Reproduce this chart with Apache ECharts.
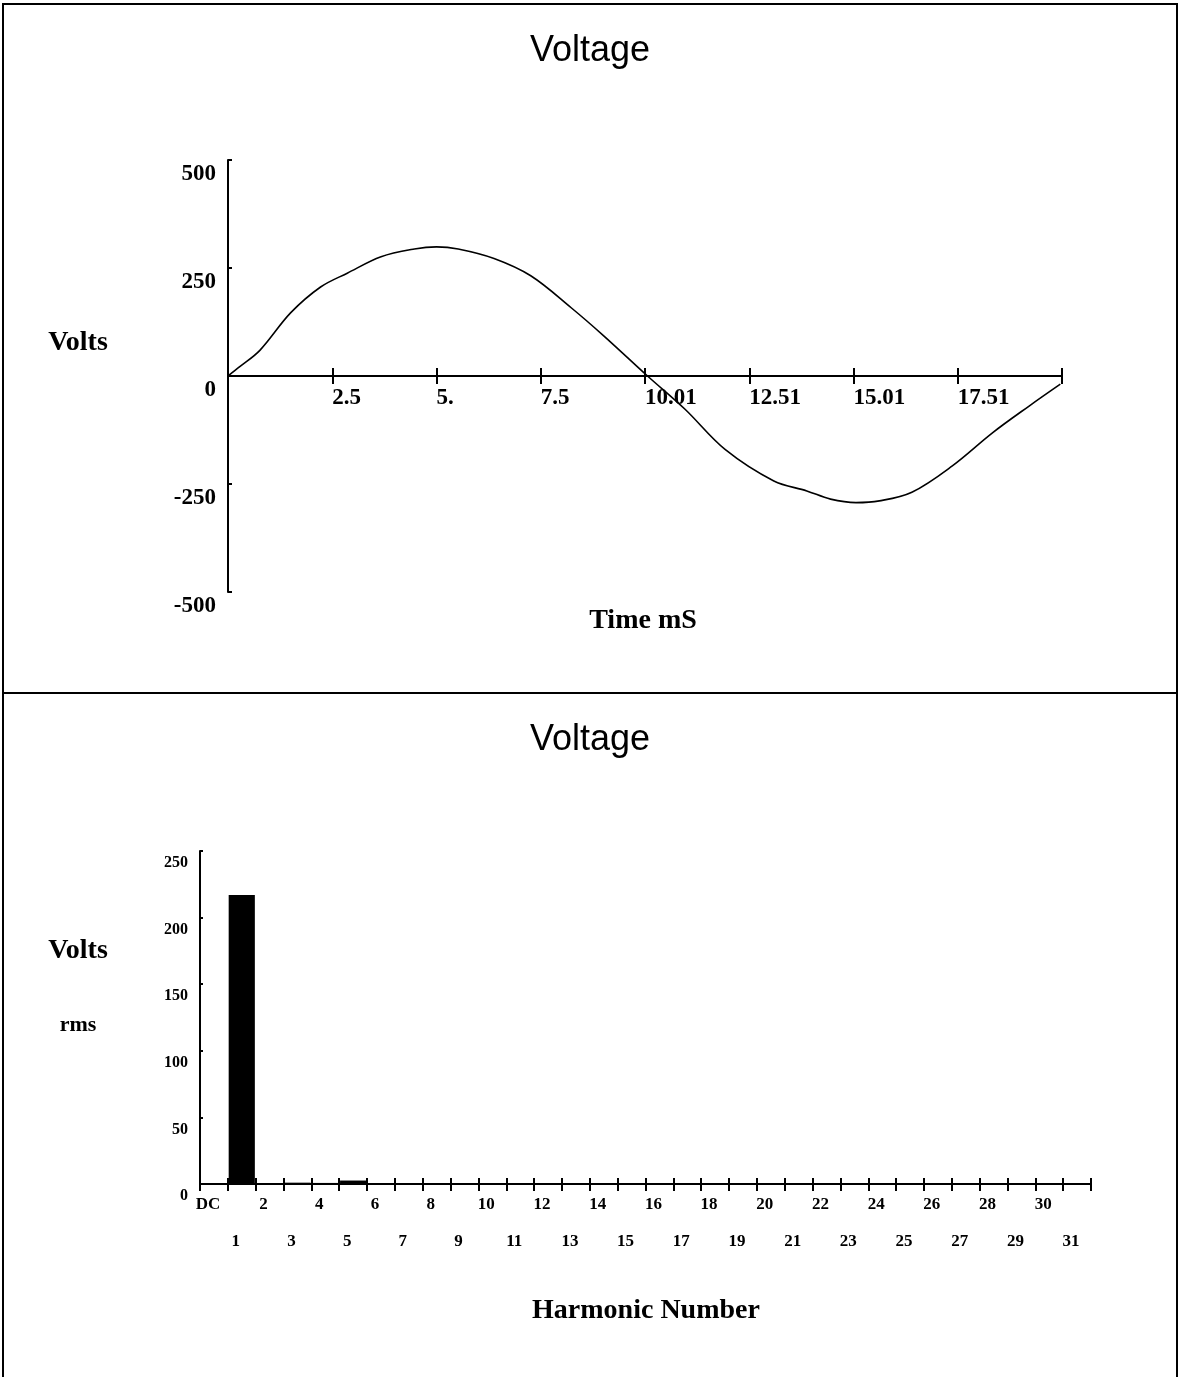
<!DOCTYPE html>
<html>
<head>
<meta charset="utf-8">
<script src="https://cdn.jsdelivr.net/npm/echarts@6/dist/echarts.min.js"></script>
<style>
  html, body { margin: 0; padding: 0; background: #fff; }
  #chart { width: 1180px; height: 1377px; }
</style>
</head>
<body>
<div id="chart"></div>
<script>
// ---- Top chart: voltage waveform (time in ms, volts) ----
const timesMs = [0, 0.29, 0.77, 1.5, 2.22, 2.86, 3.67, 4.47, 5.0, 5.52, 6.38, 7.26, 8.23, 9.01, 10.06, 10.96, 11.92, 13.09, 13.88, 14.45, 15.06, 15.62, 16.4, 17.37, 18.34, 19.22, 19.96];
const volts   = [0, 22, 60, 146, 206, 238, 276, 294, 299, 294, 272, 232, 158, 93, 0, -77, -170, -243, -266, -285, -293, -289, -269, -208, -131, -69, -19];
const timeTickLabels = ['', '2.5', '5.', '7.5', '10.01', '12.51', '15.01', '17.51', ''];
const voltTickValues = [-500, -250, 0, 250, 500];

// ---- Bottom chart: harmonic spectrum (Volts rms) ----
const harmonicLabels = ['DC', '1', '2', '3', '4', '5', '6', '7', '8', '9', '10', '11', '12', '13', '14', '15',
  '16', '17', '18', '19', '20', '21', '22', '23', '24', '25', '26', '27', '28', '29', '30', '31'];
const harmonicVolts = [0, 217, 0.4, 1.0, 0.8, 2.6, 0.3, 0.6, 0.3, 0.4, 0.3, 0.5, 0.3, 0.3, 0.2, 0.3,
  0.2, 0.3, 0.2, 0.3, 0.2, 0.4, 0.2, 0.4, 0.2, 0.3, 0.2, 0.3, 0.2, 0.3, 0.2, 0.3];

const serif = '"Liberation Serif", "Times New Roman", serif';
const waveData = timesMs.map((t, i) => [t, volts[i]]);

const chart = echarts.init(document.getElementById('chart'));
chart.setOption({
  animation: false,
  backgroundColor: '#fff',
  title: [
    { text: 'Voltage', left: 'center', top: 28,
      textStyle: { fontFamily: '"Liberation Sans", Arial, sans-serif', fontSize: 36, fontWeight: 'normal', color: '#000' } },
    { text: 'Voltage', left: 'center', top: 717,
      textStyle: { fontFamily: '"Liberation Sans", Arial, sans-serif', fontSize: 36, fontWeight: 'normal', color: '#000' } }
  ],
  graphic: [
    { type: 'rect', silent: true, shape: { x: 3, y: 4, width: 1174, height: 1420 },
      style: { fill: null, stroke: '#000', lineWidth: 2 } },
    { type: 'line', silent: true, shape: { x1: 3, y1: 693, x2: 1177, y2: 693 },
      style: { stroke: '#000', lineWidth: 2 } },
    { type: 'text', silent: true, x: 78, y: 343,
      style: { text: 'Volts', fontFamily: serif, fontWeight: 'bold', fontSize: 28, fill: '#000', align: 'center', verticalAlign: 'middle' } },
    { type: 'text', silent: true, x: 643, y: 621,
      style: { text: 'Time mS', fontFamily: serif, fontWeight: 'bold', fontSize: 28, fill: '#000', align: 'center', verticalAlign: 'middle' } },
    { type: 'text', silent: true, x: 78, y: 951,
      style: { text: 'Volts', fontFamily: serif, fontWeight: 'bold', fontSize: 28, fill: '#000', align: 'center', verticalAlign: 'middle' } },
    { type: 'text', silent: true, x: 78, y: 1025,
      style: { text: 'rms', fontFamily: serif, fontWeight: 'bold', fontSize: 22, fill: '#000', align: 'center', verticalAlign: 'middle' } },
    { type: 'text', silent: true, x: 646, y: 1311,
      style: { text: 'Harmonic Number', fontFamily: serif, fontWeight: 'bold', fontSize: 28, fill: '#000', align: 'center', verticalAlign: 'middle' } }
  ],
  grid: [
    { left: 228, right: 118, top: 160, bottom: 785, containLabel: false },
    { left: 200, right: 89, top: 851, bottom: 193, containLabel: false }
  ],
  xAxis: [
    { gridIndex: 0, type: 'value', min: 0, max: 20, interval: 2.5, position: 'bottom', offset: -216,
      axisLine: { onZero: false, lineStyle: { color: '#000', width: 2 } },
      axisTick: { show: true, inside: false, length: 8, lineStyle: { color: '#000', width: 2 } },
      axisLabel: { align: 'left', margin: 11, color: '#000', fontFamily: serif, fontWeight: 'bold', fontSize: 23,
        formatter: v => timeTickLabels[Math.round(v / 2.5)] },
      splitLine: { show: false } },
    { gridIndex: 0, type: 'value', min: 0, max: 20, interval: 2.5, position: 'bottom', offset: -216,
      axisLine: { show: false, onZero: false },
      axisTick: { show: true, inside: true, length: 8, lineStyle: { color: '#000', width: 2 } },
      axisLabel: { show: false }, splitLine: { show: false } },
    { gridIndex: 1, type: 'category', data: harmonicLabels, position: 'bottom', boundaryGap: true,
      axisLine: { onZero: false, lineStyle: { color: '#000', width: 2 } },
      axisTick: { show: true, inside: false, interval: 0, length: 7, lineStyle: { color: '#000', width: 2 } },
      axisLabel: { interval: 0, margin: 2, color: '#000', fontFamily: serif, fontWeight: 'bold', fontSize: 17,
        lineHeight: 37, padding: [0, 12, 0, 0],
        formatter: (v, i) => (i % 2 === 1 ? '\n' + v : v) },
      splitLine: { show: false } },
    { gridIndex: 1, type: 'category', data: harmonicLabels, position: 'bottom', boundaryGap: true,
      axisLine: { show: false, onZero: false },
      axisTick: { show: true, inside: true, interval: 0, length: 6, lineStyle: { color: '#000', width: 2 } },
      axisLabel: { show: false }, splitLine: { show: false } }
  ],
  yAxis: [
    { gridIndex: 0, type: 'value', min: voltTickValues[0], max: voltTickValues[voltTickValues.length - 1], interval: 250,
      axisLine: { show: true, lineStyle: { color: '#000', width: 2 } },
      axisTick: { show: true, inside: true, length: 4, lineStyle: { color: '#000', width: 2 } },
      axisLabel: { margin: 12, color: '#000', fontFamily: serif, fontWeight: 'bold', fontSize: 23,
        verticalAlign: 'top', lineHeight: 28 },
      splitLine: { show: false } },
    { gridIndex: 1, type: 'value', min: 0, max: 250, interval: 50,
      axisLine: { show: true, lineStyle: { color: '#000', width: 2 } },
      axisTick: { show: true, inside: true, length: 3, lineStyle: { color: '#000', width: 2 } },
      axisLabel: { margin: 12, color: '#000', fontFamily: serif, fontWeight: 'bold', fontSize: 16,
        verticalAlign: 'top', lineHeight: 24 },
      splitLine: { show: false } }
  ],
  series: [
    { type: 'line', xAxisIndex: 0, yAxisIndex: 0, data: waveData, smooth: 0.35, showSymbol: false,
      lineStyle: { color: '#000', width: 1.6 }, silent: true },
    { type: 'bar', xAxisIndex: 2, yAxisIndex: 1, data: harmonicVolts, barCategoryGap: '6%',
      itemStyle: { color: '#000' }, silent: true }
  ]
});
</script>
</body>
</html>
